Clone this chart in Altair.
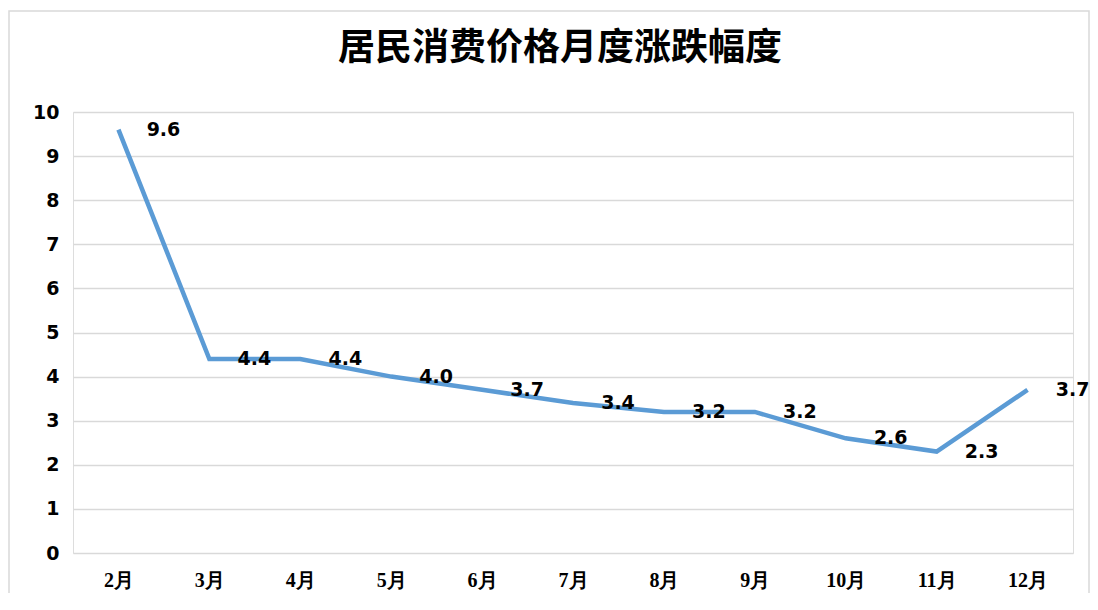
import altair as alt
import pandas as pd

months = ["2月", "3月", "4月", "5月", "6月", "7月", "8月", "9月", "10月", "11月", "12月"]
values = [9.6, 4.4, 4.4, 4.0, 3.7, 3.4, 3.2, 3.2, 2.6, 2.3, 3.7]
labels = ["9.6", "4.4", "4.4", "4.0", "3.7", "3.4", "3.2", "3.2", "2.6", "2.3", "3.7"]

df = pd.DataFrame({"month": months, "value": values, "label": labels})

x = alt.X("month:N", sort=months, title=None,
          scale=alt.Scale(type="point", padding=0.5),
          axis=alt.Axis(labelAngle=0, ticks=False, domain=False, grid=False,
                        labelFont="Liberation Sans Narrow", labelFontSize=20,
                        labelFontWeight="bold", labelColor="#000000", labelPadding=17))
y = alt.Y("value:Q", title=None,
          scale=alt.Scale(domain=[0, 10], nice=False),
          axis=alt.Axis(values=list(range(0, 11)), ticks=False, domain=False,
                        gridColor="#d9d9d9", gridWidth=1.5,
                        labelFont="DejaVu Sans", labelFontSize=19,
                        labelFontWeight="bold", labelColor="#000000", labelPadding=14))

frame = alt.Chart(df).mark_rect(fill=None, stroke="#d9d9d9", strokeWidth=1.5, clip=False).encode(
    x=alt.value(-64), x2=alt.value(1016), y=alt.value(-101), y2=alt.value(620)
).transform_filter("datum.month == '2月'")

line = alt.Chart(df).mark_line(color="#5B9BD5", strokeWidth=4.5).encode(x=x, y=y)

text = alt.Chart(df).mark_text(font="DejaVu Sans", fontSize=19, fontWeight="bold",
                               color="#000000", dx=45, align="center", baseline="middle").encode(
    x=alt.X("month:N", sort=months, scale=alt.Scale(type="point", padding=0.5)),
    y=alt.Y("value:Q", scale=alt.Scale(domain=[0, 10], nice=False)),
    text="label:N")

chart = alt.layer(frame, line, text).properties(
    width=1000, height=441,
    title=alt.TitleParams("居民消费价格月度涨跌幅度", font="Noto Sans CJK SC", fontSize=37,
                          fontWeight="bold", color="#000000", anchor="middle", frame="group",
                          offset=0, dy=58, dx=-13),
    autosize=alt.AutoSizeParams(type="none"),
    padding={"left": 65, "top": 104, "right": 17, "bottom": 40},
).configure_view(stroke=None).configure(background="#ffffff")

chart.save("out.html", embed_options={"renderer": "svg", "actions": False})
